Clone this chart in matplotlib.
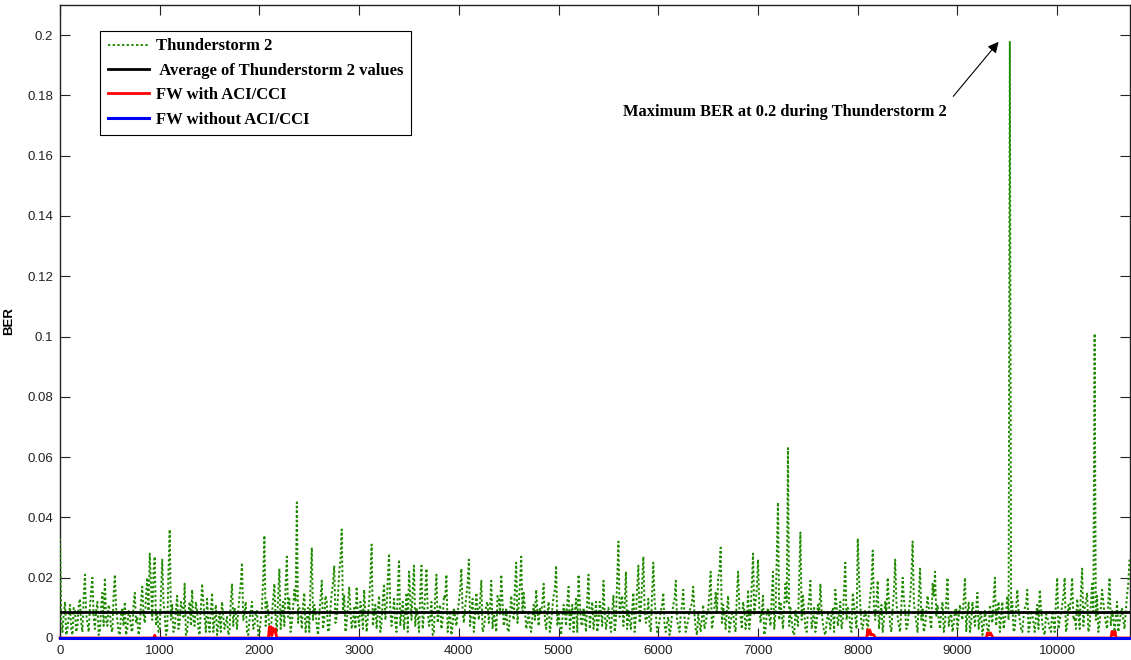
import numpy as np
import matplotlib
matplotlib.use('Agg')
import matplotlib.pyplot as plt

plt.rcParams['font.family'] = ['Liberation Sans', 'DejaVu Sans']

# --- data (BER values, in units of 1e-3) ---
# Thunderstorm 2, samples at 0, 25, 50, ...
storm_step = 25
storm_milli = [
    33, 2, 12, 3, 11, 1, 9, 4, 13, 2, 21, 5, 10, 20, 3, 12, 2, 15, 20, 4,
    9, 2, 21, 6, 1, 10, 12, 3, 8, 2, 15, 7, 3, 17, 5, 20, 28, 6, 27, 9,
    3, 26, 8, 2, 36, 11, 3, 14, 5, 10, 18, 2, 12, 16, 4, 9, 1, 18, 7, 13,
    2, 15, 6, 1, 9, 12, 3, 7, 2, 18, 10, 3, 14, 25, 8, 2, 6, 12, 4, 9,
    1, 10, 34, 12, 3, 8, 18, 2, 23, 9, 4, 27, 13, 5, 16, 45, 10, 3, 15, 6,
    2, 30, 11, 4, 8, 19, 6, 12, 3, 15, 24, 7, 22, 36, 14, 5, 17, 3, 10, 17,
    4, 9, 16, 2, 12, 31, 8, 3, 14, 5, 18, 10, 28, 4, 13, 2, 26, 9, 3, 15,
    22, 6, 24, 10, 2, 24, 8, 23, 4, 12, 2, 21, 9, 3, 14, 21, 6, 1, 10, 4,
    12, 23, 5, 14, 26, 9, 2, 15, 6, 19, 3, 11, 5, 19, 8, 2, 13, 21, 4, 10,
    2, 14, 6, 25, 11, 27, 15, 3, 9, 2, 11, 16, 4, 8, 18, 3, 12, 5, 14, 24,
    8, 1, 11, 4, 17, 7, 2, 13, 21, 5, 10, 2, 21, 8, 3, 12, 5, 9, 19, 3,
    10, 2, 14, 6, 32, 12, 4, 22, 9, 3, 15, 7, 24, 10, 27, 5, 13, 2, 25, 8,
    3, 9, 15, 2, 7, 3, 11, 19, 4, 8, 16, 2, 6, 10, 17, 3, 8, 2, 11, 5,
    9, 22, 6, 15, 20, 30, 11, 3, 14, 5, 9, 2, 22, 7, 12, 3, 16, 8, 28, 12,
    26, 5, 14, 3, 10, 4, 22, 8, 45, 12, 3, 18, 63, 10, 2, 9, 4, 35, 14, 3,
    9, 19, 6, 2, 11, 18, 5, 1, 8, 3, 10, 16, 4, 12, 6, 25, 10, 3, 15, 7,
    33, 11, 3, 9, 2, 14, 29, 6, 19, 8, 2, 12, 20, 4, 10, 26, 7, 2, 20, 9,
    4, 13, 32, 8, 2, 23, 10, 4, 14, 6, 18, 22, 11, 3, 12, 5, 20, 7, 2, 9,
    3, 11, 6, 20, 8, 2, 12, 4, 15, 7, 1, 9, 3, 11, 5, 20, 9, 2, 12, 6,
    14, 198, 12, 3, 16, 6, 2, 10, 16, 4, 8, 2, 11, 16, 5, 1, 7, 3, 9, 2,
    20, 6, 11, 20, 4, 9, 20, 7, 13, 3, 23, 10, 15, 4, 18, 101, 14, 5, 16, 8,
    3, 20, 9, 2, 12, 5, 10, 3, 14, 26,
]
# Thunderstorm 2, in-between samples at 12.5, 37.5, 62.5, ...
storm_mid_milli = [
    6, 8, 1, 7, 3, 10, 2, 11, 5, 14, 8, 2, 16, 7, 9, 1, 10, 4, 6, 11,
    3, 14, 10, 2, 8, 4, 1, 9, 3, 11, 5, 1, 12, 8, 14, 9, 18, 22, 4, 2,
    15, 12, 1, 22, 6, 2, 9, 3, 12, 7, 1, 8, 4, 6, 12, 3, 10, 12, 2, 5,
    9, 2, 11, 4, 2, 7, 5, 1, 12, 4, 8, 9, 18, 6, 12, 1, 9, 3, 8, 1,
    6, 20, 4, 9, 1, 13, 6, 14, 3, 12, 18, 7, 2, 10, 12, 5, 9, 11, 2, 10,
    18, 6, 9, 1, 13, 3, 14, 2, 10, 18, 5, 14, 26, 9, 2, 11, 9, 6, 3, 7,
    12, 3, 8, 7, 20, 4, 11, 9, 2, 13, 6, 20, 9, 8, 5, 16, 4, 12, 8, 2,
    14, 16, 4, 7, 15, 3, 15, 9, 6, 1, 14, 5, 11, 6, 13, 2, 9, 4, 7, 8,
    16, 9, 10, 18, 4, 13, 7, 10, 12, 2, 7, 12, 10, 3, 6, 14, 8, 12, 6, 3,
    8, 9, 17, 5, 18, 8, 10, 5, 4, 7, 6, 9, 10, 12, 6, 8, 2, 10, 16, 4,
    5, 6, 9, 12, 3, 11, 8, 2, 12, 4, 7, 13, 3, 12, 7, 2, 12, 4, 8, 6,
    5, 9, 2, 20, 7, 14, 11, 3, 6, 9, 2, 16, 5, 18, 9, 7, 4, 15, 12, 2,
    6, 11, 4, 5, 1, 8, 13, 6, 2, 11, 7, 4, 9, 12, 8, 1, 5, 7, 3, 8,
    15, 3, 10, 8, 22, 5, 7, 9, 2, 8, 4, 14, 10, 3, 9, 6, 3, 18, 8, 16,
    10, 9, 1, 8, 7, 14, 3, 26, 6, 8, 11, 12, 4, 6, 1, 7, 20, 6, 9, 2,
    13, 3, 10, 5, 8, 9, 2, 5, 6, 8, 2, 11, 7, 3, 16, 6, 9, 2, 11, 3,
    20, 4, 7, 6, 9, 18, 10, 12, 3, 11, 6, 8, 12, 2, 15, 12, 4, 11, 13, 3,
    9, 20, 12, 5, 14, 6, 2, 9, 10, 3, 14, 7, 6, 9, 2, 13, 4, 8, 5, 10,
    7, 8, 13, 2, 12, 5, 8, 10, 3, 9, 4, 6, 2, 8, 13, 4, 12, 7, 3, 9,
    6, 8, 2, 10, 9, 3, 7, 11, 2, 9, 5, 7, 3, 10, 2, 8, 5, 2, 6, 12,
    3, 8, 14, 2, 11, 13, 6, 3, 9, 15, 4, 12, 2, 11, 8, 6, 2, 10, 12, 5,
    12, 4, 7, 6, 2, 8, 6, 9, 18,
]
storm_avg = 0.0087

# FW with ACI/CCI: zero except a few small bumps
fw_aci_x = [0, 940, 950, 960, 2090, 2100, 2110, 2115, 2125, 2135, 2150, 2160, 2170, 2180,
            8090, 8100, 8110, 8120, 8135, 8150, 8165, 8175,
            9290, 9300, 9315, 9330, 9345, 9355,
            10540, 10550, 10565, 10580, 10590, 10730]
fw_aci_y = [0, 0, 0.0009, 0, 0, 0.0037, 0.0010, 0.0037, 0.0008, 0.0033, 0.0020, 0.0030, 0.0005, 0,
            0, 0.0027, 0.0012, 0.0027, 0.0010, 0.0012, 0.0008, 0,
            0, 0.0017, 0.0010, 0.0017, 0.0008, 0,
            0, 0.0022, 0.0010, 0.0022, 0, 0]

# FW without ACI/CCI: zero over the whole run
fw_noaci_x = [0, 10730]
fw_noaci_y = [0, 0]

x_max = 10730
y_ticks = [0, 0.02, 0.04, 0.06, 0.08, 0.1, 0.12, 0.14, 0.16, 0.18, 0.2]
y_tick_labels = ['0', '0.02', '0.04', '0.06', '0.08', '0.1', '0.12', '0.14', '0.16', '0.18', '0.2']
x_ticks = list(range(0, 10001, 1000))

# merge the two sample sets into one time series
xa = np.arange(len(storm_milli)) * storm_step
xb = np.arange(len(storm_mid_milli)) * storm_step + storm_step / 2
storm_x = np.concatenate([xa, xb])
storm = np.concatenate([storm_milli, storm_mid_milli]) / 1000.0
order = np.argsort(storm_x)
storm_x, storm = storm_x[order], storm[order]

fig = plt.figure(figsize=(11.31, 6.60), dpi=100)
ax = fig.add_axes([60 / 1131, 22 / 660, 1070 / 1131, 633 / 660])

ax.plot(storm_x, storm, color='#1f8a00', linestyle=(0, (1.2, 1.2)), linewidth=1.4,
        label='Thunderstorm 2', zorder=2)
ax.plot([0, x_max], [storm_avg, storm_avg], color='black', linewidth=2,
        label=' Average of Thunderstorm 2 values', zorder=3)
ax.plot(fw_aci_x, fw_aci_y, color='#ff0000', linewidth=2, label='FW with ACI/CCI',
        zorder=4, clip_on=False)
ax.plot(fw_noaci_x, fw_noaci_y, color='#0000ff', linewidth=2.2, label='FW without ACI/CCI',
        zorder=5, clip_on=False)

ax.set_xlim(0, x_max)
ax.set_ylim(0, 0.21)
ax.set_xticks(x_ticks)
ax.set_xticklabels([str(t) for t in x_ticks])
ax.set_yticks(y_ticks)
ax.set_yticklabels(y_tick_labels)
ax.tick_params(direction='in', length=7, width=0.8, top=True, right=True,
               labelsize=9.5, colors='#222222', pad=5)
for s in ax.spines.values():
    s.set_linewidth(1)
    s.set_color('#222222')
    s.set_zorder(1)

ax.set_ylabel('BER', fontsize=9.5, fontweight='bold')
ax.yaxis.set_label_coords(-0.042, 0.5)

leg = ax.legend(loc='upper left', bbox_to_anchor=(40 / 1070, 1 - 26 / 633),
                prop={'family': 'Liberation Serif', 'weight': 'bold', 'size': 12},
                frameon=True, fancybox=False, edgecolor='black', framealpha=1,
                handlelength=2.5, handletextpad=0.4, labelspacing=0.5,
                borderpad=0.45, borderaxespad=0)
leg.get_frame().set_linewidth(0.8)

ax.text(5650, 0.1745, 'Maximum BER at 0.2 during Thunderstorm 2',
        family='Liberation Serif', fontweight='bold', fontsize=11.8,
        ha='left', va='center')
ax.annotate('', xy=(9430, 0.1985), xytext=(8940, 0.179),
            arrowprops=dict(arrowstyle='-|>', color='black', lw=0.8,
                            mutation_scale=16))

fig.savefig('out.png', dpi=100)
